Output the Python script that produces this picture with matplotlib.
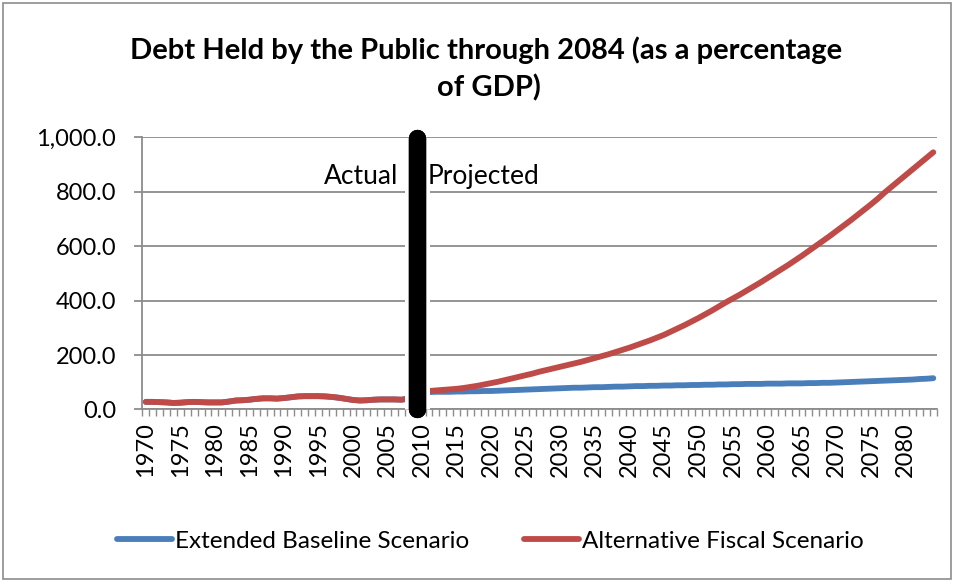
import numpy as np
import matplotlib
matplotlib.use("Agg")
import matplotlib.pyplot as plt
import matplotlib.patheffects as pe
from matplotlib.patches import Rectangle

plt.rcParams['font.family'] = ['Lato', 'DejaVu Sans']

# --- data (percent of GDP) ---
years = list(range(1970, 2085))

actual = [28, 28, 27, 26, 24, 25, 27, 28, 27, 26,
          26, 26, 29, 33, 34, 36, 39, 41, 41, 40,
          42, 45, 48, 49, 49, 49, 48, 46, 43, 39,
          35, 33, 34, 36, 37, 37, 37, 36, 40]          # 1970-2008

baseline_proj = [54, 60, 64, 65, 65, 65, 66, 66, 67, 67,
                 68, 68, 69, 70, 71, 72, 73, 74, 75, 76,
                 77, 78, 79, 80, 80, 81, 82, 82, 83, 84,
                 84, 85, 86, 86, 87, 87, 88, 88, 89, 89,
                 90, 90, 91, 91, 92, 92, 93, 93, 94, 94,
                 94, 95, 95, 95, 96, 96, 96, 97, 97, 98,
                 98, 99, 100, 101, 102, 103, 104, 105, 106, 107,
                 108, 109, 110, 112, 113, 115]             # 2009-2084

alt_proj = [56, 62, 68, 70, 72, 74, 76, 79, 83, 87,
            92, 97, 102, 108, 114, 120, 126, 132, 139, 145,
            151, 157, 163, 169, 175, 182, 189, 196, 203, 211,
            219, 227, 236, 245, 254, 264, 274, 286, 298, 310,
            323, 336, 350, 364, 379, 394, 408, 422, 437, 452,
            467, 483, 499, 515, 531, 548, 565, 583, 601, 619,
            637, 656, 675, 694, 714, 734, 754, 775, 798, 819,
            840, 861, 882, 903, 924, 945]                  # 2009-2084

baseline = actual + baseline_proj
alternative = actual + alt_proj

divider_year = 2009.2
label_years = list(range(1970, 2081, 5))

BLUE = '#4A7EBB'
RED = '#BE4B48'
GRID = '#8C8C8C'

fig = plt.figure(figsize=(9.54, 5.82), dpi=100)
ax = fig.add_axes([0.1492, 0.2964, 0.8327, 0.4677])

ax.plot(years, baseline, color=BLUE, lw=4.2, solid_capstyle='round',
        label='Extended Baseline Scenario', zorder=3)
ax.plot(years, alternative, color=RED, lw=4.2, solid_capstyle='round',
        label='Alternative Fiscal Scenario', zorder=4)

# thick black divider with a white halo that cuts the grid and axis
ax.plot([divider_year, divider_year], [997, 3], color='black', lw=12.5,
        solid_capstyle='round', zorder=6, clip_on=False,
        path_effects=[pe.withStroke(linewidth=18, foreground='white', capstyle='butt'),
                      pe.Normal()])

ax.text(2006.6, 855, 'Actual', ha='right', va='center', fontsize=19, zorder=7)
ax.text(2010.8, 855, 'Projected', ha='left', va='center', fontsize=19, zorder=7)

ax.set_xlim(1969.5, 2084.5)
ax.set_ylim(0, 1000)
ax.set_yticks(range(0, 1001, 200))
ax.yaxis.set_major_formatter(matplotlib.ticker.FuncFormatter(lambda v, p: f'{v:,.1f}'))
ax.set_xticks(label_years)
ax.set_xticklabels([str(y) for y in label_years], rotation=90)
ax.set_xticks(np.arange(1969.5, 2085, 1), minor=True)

ax.grid(axis='y', color=GRID, lw=1.3)
ax.set_axisbelow(True)
for s in ['top', 'right']:
    ax.spines[s].set_visible(False)
for s in ['left', 'bottom']:
    ax.spines[s].set_color(GRID)
    ax.spines[s].set_linewidth(1.3)

ax.tick_params(axis='y', length=6, width=1.3, color=GRID, labelsize=17, pad=13)
ax.tick_params(axis='x', which='major', length=0, labelsize=17, pad=9)
ax.tick_params(axis='x', which='minor', length=5, width=1.0, color=GRID)

fig.text(0.509, 0.914, 'Debt Held by the Public through 2084 (as a percentage',
         ha='center', va='center', fontsize=21, fontweight='bold')
fig.text(0.513, 0.849, 'of GDP)', ha='center', va='center', fontsize=21,
         fontweight='bold')

leg = fig.legend(loc='center', bbox_to_anchor=(0.514, 0.07), ncol=2, frameon=False,
                 fontsize=17.5, handlelength=2.26, handletextpad=0.12,
                 columnspacing=2.26)
for h in leg.get_lines():
    h.set_linewidth(4.2)

fig.add_artist(Rectangle((0.003, 0.005), 0.994, 0.99, transform=fig.transFigure,
                         fill=False, edgecolor='#8C8C8C', lw=1.2))

fig.savefig('out.png', dpi=100)
